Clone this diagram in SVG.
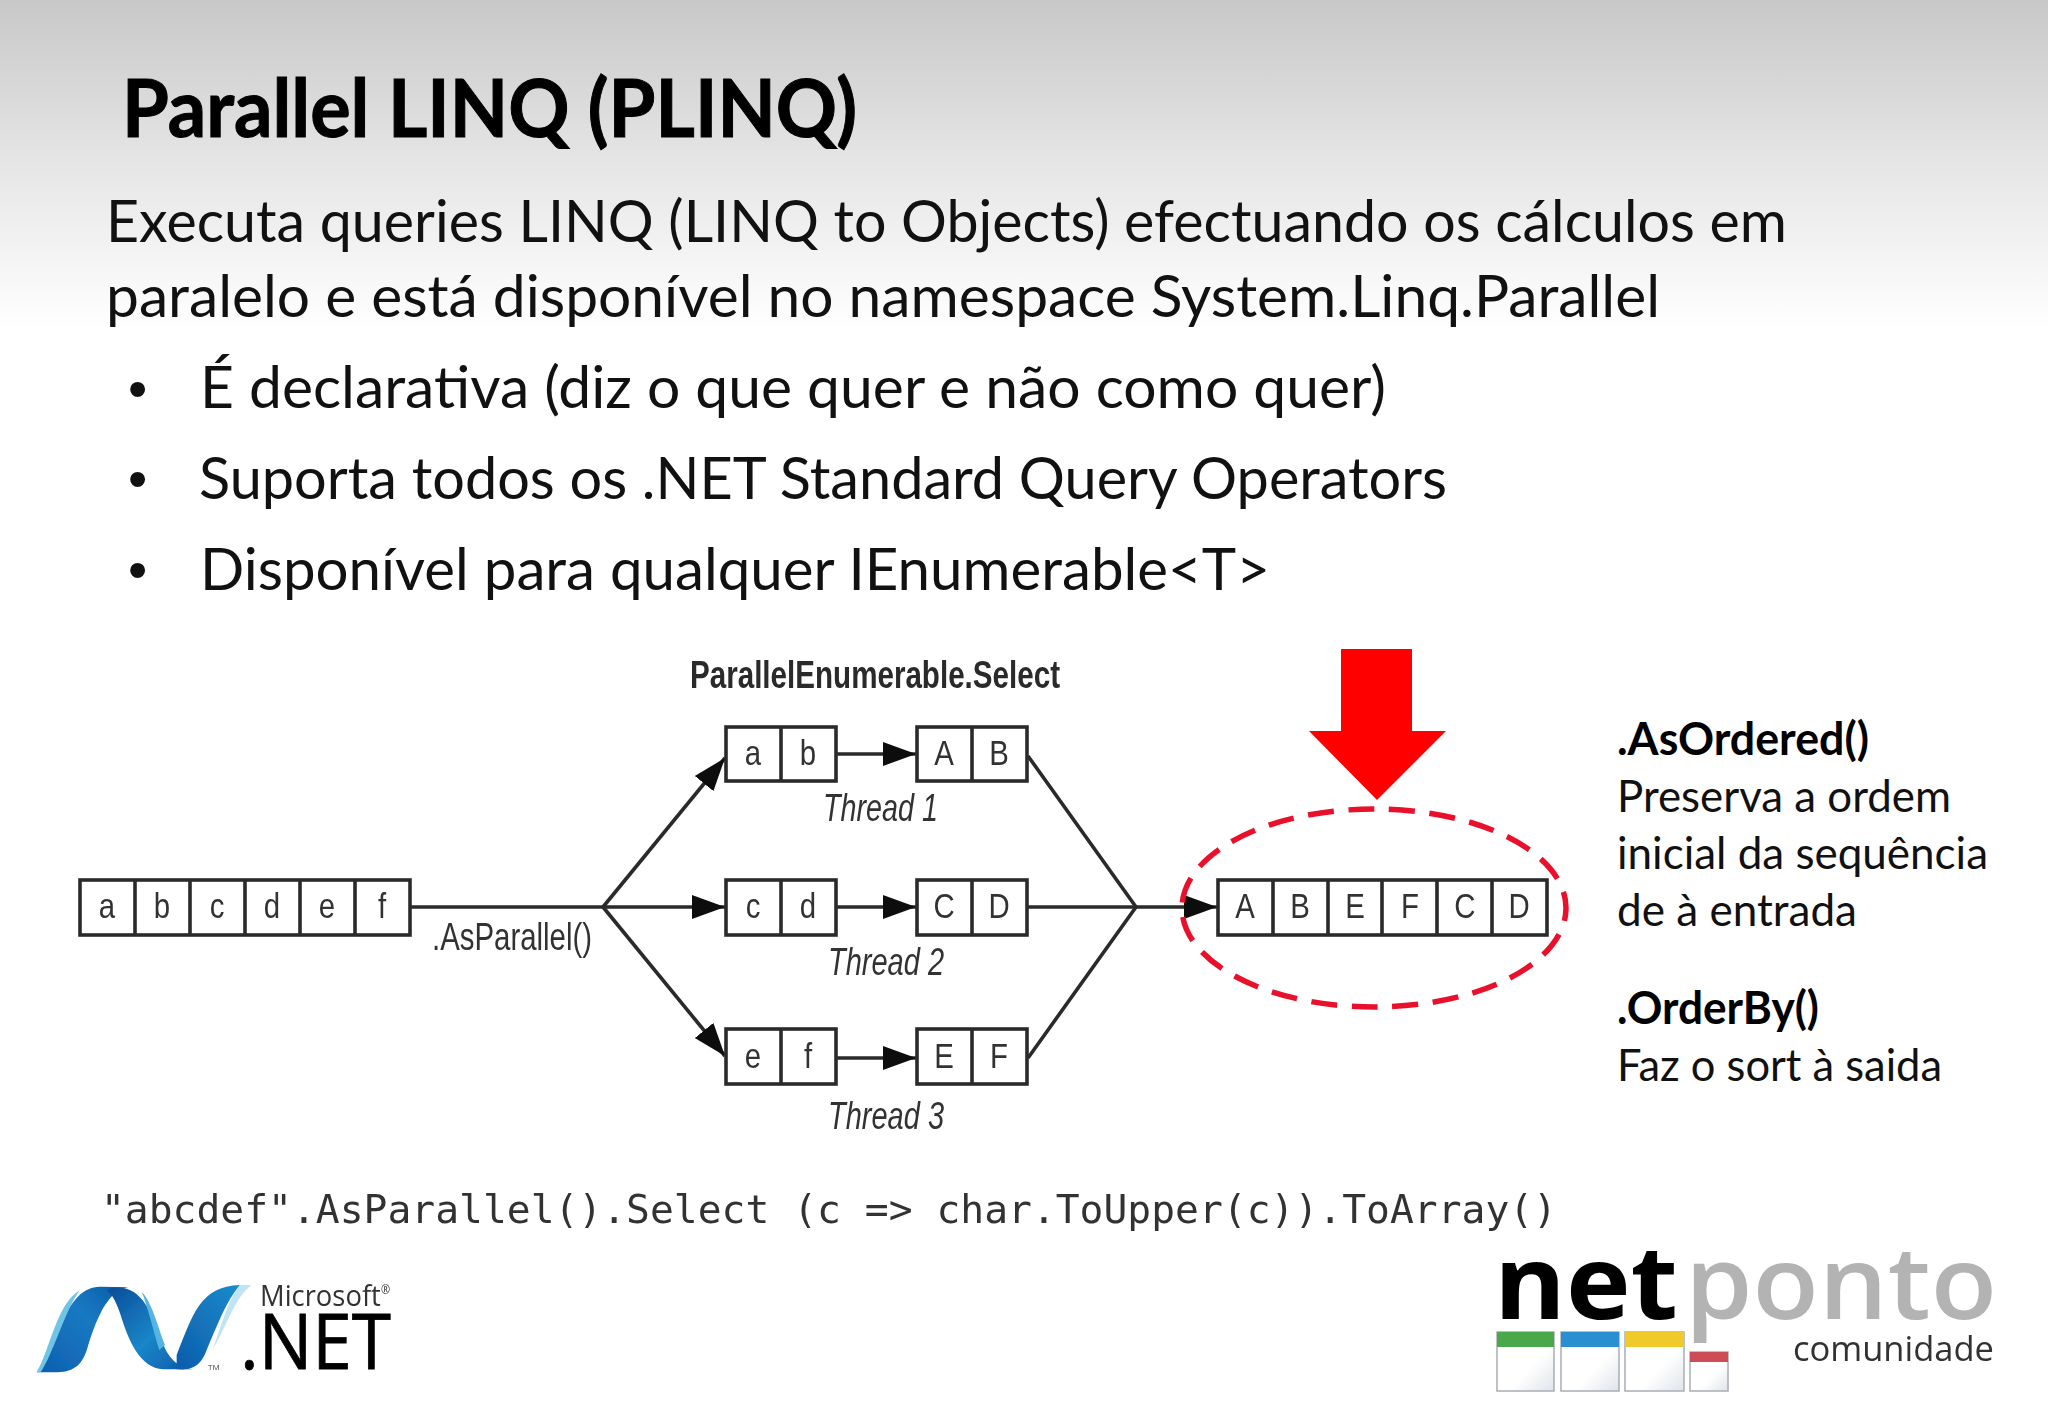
<svg xmlns="http://www.w3.org/2000/svg" width="2048" height="1418" viewBox="0 0 2048 1418">
<defs>
<linearGradient id="bg" x1="0" y1="0" x2="0" y2="1"><stop offset="0" stop-color="#c8c8c8"/><stop offset="0.5" stop-color="#e6e6e6"/><stop offset="1" stop-color="#ffffff"/></linearGradient>
<linearGradient id="ribA" x1="0" y1="1" x2="1" y2="0"><stop offset="0" stop-color="#0f5fae"/><stop offset="0.6" stop-color="#1679c2"/><stop offset="1" stop-color="#0c5aa6"/></linearGradient>
<linearGradient id="ribB" x1="0" y1="0" x2="1" y2="1"><stop offset="0" stop-color="#0a4b98"/><stop offset="0.55" stop-color="#1a86c8"/><stop offset="1" stop-color="#0c57a8"/></linearGradient>
<linearGradient id="ribC" x1="0" y1="1" x2="1" y2="0"><stop offset="0" stop-color="#0d5cab"/><stop offset="1" stop-color="#1a8ccb"/></linearGradient>
<linearGradient id="win" x1="0" y1="0" x2="1" y2="1"><stop offset="0.6" stop-color="#ffffff"/><stop offset="1" stop-color="#dfe4ea"/></linearGradient>
<filter id="soft" x="-5%" y="-5%" width="110%" height="110%"><feGaussianBlur stdDeviation="0.7"/></filter>
<marker id="ah" markerUnits="userSpaceOnUse" markerWidth="34" markerHeight="26" refX="33" refY="13" orient="auto"><path d="M0 1L33 13L0 25Z" fill="#111"/></marker>
</defs>
<style>
text{white-space:pre}
.h{font-family:Lato,"Noto Sans",sans-serif;font-weight:700;fill:#000;stroke:#000;stroke-width:1}
.b{font-family:Lato,"Noto Sans",sans-serif;font-size:58px;fill:#111}
.bu{font-family:"Liberation Sans",Arial,sans-serif;font-size:55px;fill:#111}
.s{font-family:Lato,"Noto Sans",sans-serif;font-size:45px;fill:#111}
.sb{font-weight:700;fill:#000}
.c{font-family:"Liberation Sans",Arial,sans-serif;font-size:35px;fill:#333;text-anchor:middle;transform-box:fill-box;transform-origin:center;transform:scaleX(.84)}
.t{font-family:"Liberation Sans",Arial,sans-serif;font-size:38px;fill:#333;font-style:italic}
.cell{fill:#fff;stroke:#2a2a2a;stroke-width:3.6}
.cn{fill:none;stroke:#2a2a2a;stroke-width:3.6}
.ca{fill:none;stroke:#2a2a2a;stroke-width:3.6;marker-end:url(#ah)}
</style>
<rect id="background" width="2048" height="1418" fill="#fff"/>
<rect id="background-gradient" width="2048" height="330" fill="url(#bg)"/>

<g id="title"><text class="h" x="122" y="137" font-size="80" textLength="735" lengthAdjust="spacingAndGlyphs">Parallel LINQ (PLINQ)</text></g>
<g id="body">
<text class="b" x="106" y="242" textLength="1681" lengthAdjust="spacingAndGlyphs">Executa queries LINQ (LINQ to Objects) efectuando os cálculos em</text>
<text class="b" x="106" y="317" textLength="1554" lengthAdjust="spacingAndGlyphs">paralelo e está disponível no namespace System.Linq.Parallel</text>
<text class="bu" x="128" y="408">•</text><text class="b" x="200" y="408" textLength="1186" lengthAdjust="spacingAndGlyphs">É declarativa (diz o que quer e não como quer)</text>
<text class="bu" x="128" y="498">•</text><text class="b" x="199" y="499" textLength="1248" lengthAdjust="spacingAndGlyphs">Suporta todos os .NET Standard Query Operators</text>
<text class="bu" x="128" y="589">•</text><text class="b" x="200" y="590" textLength="1070" lengthAdjust="spacingAndGlyphs">Disponível para qualquer IEnumerable&lt;T&gt;</text>
</g>

<g id="connectors" filter="url(#soft)">
<path class="cn" d="M410 907H603"/>
<path class="ca" d="M603 907L725 758"/>
<path class="ca" d="M603 907H725"/>
<path class="ca" d="M603 907L725 1056"/>
<path class="ca" d="M836 754H916"/>
<path class="ca" d="M836 907H916"/>
<path class="ca" d="M836 1058H916"/>
<path class="cn" d="M1028 756L1136 907L1028 1058"/>
<path class="cn" d="M1028 907H1136"/>
<path class="ca" d="M1136 907H1217"/>
</g>

<g id="input-array" filter="url(#soft)">
<rect class="cell" x="80" y="880" width="330" height="55"/>
<path class="cn" d="M135 880v55M190 880v55M245 880v55M300 880v55M355 880v55"/>
<text class="c" x="107" y="918">a</text><text class="c" x="162" y="918">b</text><text class="c" x="217" y="918">c</text><text class="c" x="272" y="918">d</text><text class="c" x="327" y="918">e</text><text class="c" x="382" y="918">f</text>
</g>
<g id="label-asparallel" filter="url(#soft)"><text class="t" x="432" y="950" style="font-style:normal" textLength="160" lengthAdjust="spacingAndGlyphs">.AsParallel()</text></g>
<g id="label-select" filter="url(#soft)"><text class="t" x="690" y="688" style="font-style:normal;font-weight:700;fill:#2a2a2a" textLength="370" lengthAdjust="spacingAndGlyphs">ParallelEnumerable.Select</text></g>

<g id="thread1-in" filter="url(#soft)"><rect class="cell" x="726" y="727" width="110" height="54"/><path class="cn" d="M781 727v54"/><text class="c" x="753" y="765">a</text><text class="c" x="808" y="765">b</text></g>
<g id="thread1-out" filter="url(#soft)"><rect class="cell" x="917" y="727" width="110" height="54"/><path class="cn" d="M972 727v54"/><text class="c" x="944" y="765">A</text><text class="c" x="999" y="765">B</text></g>
<g id="thread2-in" filter="url(#soft)"><rect class="cell" x="726" y="880" width="110" height="55"/><path class="cn" d="M781 880v55"/><text class="c" x="753" y="918">c</text><text class="c" x="808" y="918">d</text></g>
<g id="thread2-out" filter="url(#soft)"><rect class="cell" x="917" y="880" width="110" height="55"/><path class="cn" d="M972 880v55"/><text class="c" x="944" y="918">C</text><text class="c" x="999" y="918">D</text></g>
<g id="thread3-in" filter="url(#soft)"><rect class="cell" x="726" y="1029" width="110" height="55"/><path class="cn" d="M781 1029v55"/><text class="c" x="753" y="1068">e</text><text class="c" x="808" y="1068">f</text></g>
<g id="thread3-out" filter="url(#soft)"><rect class="cell" x="917" y="1029" width="110" height="55"/><path class="cn" d="M972 1029v55"/><text class="c" x="944" y="1068">E</text><text class="c" x="999" y="1068">F</text></g>
<g id="thread-labels" filter="url(#soft)">
<text class="t" x="823" y="821" textLength="115" lengthAdjust="spacingAndGlyphs">Thread 1</text>
<text class="t" x="828" y="975" textLength="116" lengthAdjust="spacingAndGlyphs">Thread 2</text>
<text class="t" x="828" y="1129" textLength="116" lengthAdjust="spacingAndGlyphs">Thread 3</text>
</g>
<g id="output-array" filter="url(#soft)">
<rect class="cell" x="1218" y="880" width="329" height="55"/>
<path class="cn" d="M1273 880v55M1328 880v55M1382 880v55M1437 880v55M1492 880v55"/>
<text class="c" x="1245" y="918">A</text><text class="c" x="1300" y="918">B</text><text class="c" x="1355" y="918">E</text><text class="c" x="1410" y="918">F</text><text class="c" x="1465" y="918">C</text><text class="c" x="1519" y="918">D</text>
</g>

<g id="highlight">
<ellipse cx="1374" cy="908" rx="192" ry="99" fill="none" stroke="#e8102a" stroke-width="5.5" stroke-dasharray="26 14.6" stroke-dashoffset="13"/>
<path d="M1341 649H1412V731H1446L1377 800L1309 731H1341Z" fill="#ff0000"/>
</g>

<g id="notes">
<text class="s sb" x="1617" y="755" textLength="252" lengthAdjust="spacingAndGlyphs">.AsOrdered()</text>
<text class="s" x="1617" y="812" textLength="334" lengthAdjust="spacingAndGlyphs">Preserva a ordem</text>
<text class="s" x="1617" y="869" textLength="371" lengthAdjust="spacingAndGlyphs">inicial da sequência</text>
<text class="s" x="1617" y="926" textLength="240" lengthAdjust="spacingAndGlyphs">de à entrada</text>
<text class="s sb" x="1617" y="1024" textLength="202" lengthAdjust="spacingAndGlyphs">.OrderBy()</text>
<text class="s" x="1617" y="1081" textLength="325" lengthAdjust="spacingAndGlyphs">Faz o sort à saida</text>
</g>

<g id="code" filter="url(#soft)"><text x="101" y="1223" font-family="'DejaVu Sans Mono',monospace" font-size="39.5" fill="#333" textLength="1456" lengthAdjust="spacingAndGlyphs">"abcdef".AsParallel().Select (c =&gt; char.ToUpper(c)).ToArray()</text></g>

<g id="dotnet-logo" filter="url(#soft)">
<g transform="translate(0 1240) scale(.3333)">
<path d="M110 397C170 320 195 140 300 140L385 142C320 150 285 250 262 325C245 382 215 397 165 397Z" fill="url(#ribA)"/>
<path d="M110 397C150 330 170 190 240 150C195 210 165 330 122 397Z" fill="#6fc4e6"/>
<path d="M330 145C420 125 455 215 485 300C505 360 540 388 590 388L490 388C420 385 385 300 362 225C350 190 340 165 320 152Z" fill="url(#ribB)"/>
<path d="M425 155C455 185 470 250 495 315L478 330C462 280 445 205 425 155Z" fill="#55b5e0"/>
<path d="M530 345C580 220 600 140 720 135C680 180 650 260 620 330C600 385 570 390 530 388Z" fill="url(#ribC)"/>
<path d="M720 135L755 135C705 170 680 260 640 325C665 250 690 170 720 135Z" fill="#bfe4f3"/>
</g>
<text x="260" y="1306" font-family="'Open Sans',sans-serif" font-size="30" fill="#333" textLength="130" lengthAdjust="spacingAndGlyphs">Microsoft<tspan font-size="12" dy="-12">®</tspan></text>
<text x="208" y="1370" font-family="'Open Sans',sans-serif" font-size="8" fill="#444">TM</text>
<text x="240" y="1369" font-family="'Open Sans',sans-serif" font-size="76" fill="#000" stroke="#000" stroke-width=".8" textLength="151" lengthAdjust="spacingAndGlyphs">.NET</text>
</g>

<g id="netponto-logo" filter="url(#soft)">
<text x="1494" y="1319" font-family="'Open Sans',sans-serif" font-weight="700" font-size="102" fill="#000" textLength="184" lengthAdjust="spacingAndGlyphs">net</text>
<text x="1685" y="1319" font-family="'Open Sans',sans-serif" font-weight="600" font-size="102" fill="#b3b3b3" textLength="312" lengthAdjust="spacingAndGlyphs">ponto</text>
<text x="1793" y="1361" font-family="'Open Sans',sans-serif" font-size="34" fill="#333" textLength="201" lengthAdjust="spacingAndGlyphs">comunidade</text>
<rect x="1497" y="1332" width="57" height="59" fill="url(#win)" stroke="#a9aeb4" stroke-width="1.5"/><rect x="1497" y="1332" width="57" height="15" fill="#49a84a"/>
<rect x="1561" y="1332" width="58" height="59" fill="url(#win)" stroke="#a9aeb4" stroke-width="1.5"/><rect x="1561" y="1332" width="58" height="15" fill="#2a8fd0"/>
<rect x="1625" y="1332" width="59" height="59" fill="url(#win)" stroke="#a9aeb4" stroke-width="1.5"/><rect x="1625" y="1332" width="59" height="15" fill="#f0c92c"/>
<rect x="1690" y="1352" width="38" height="39" fill="url(#win)" stroke="#a9aeb4" stroke-width="1.5"/><rect x="1690" y="1352" width="38" height="10" fill="#cc4d55"/>
</g>
</svg>
